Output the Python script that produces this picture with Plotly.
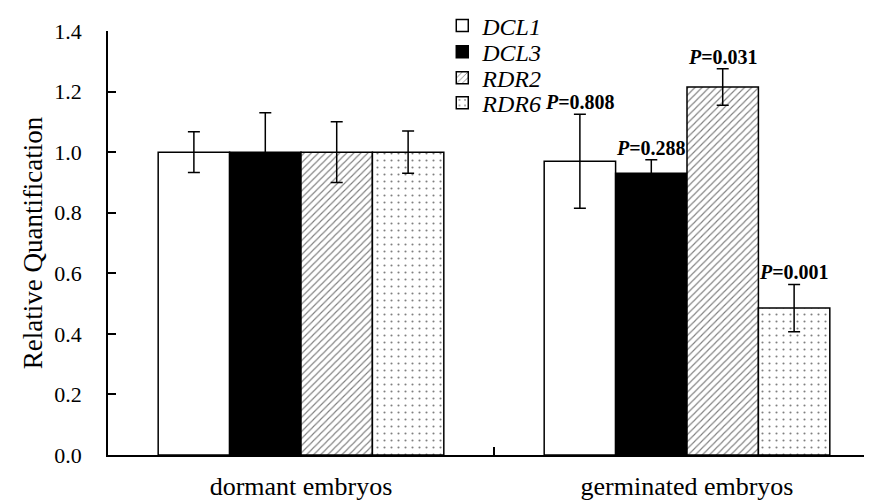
import plotly.graph_objects as go

categories = ["dormant embryos", "germinated embryos"]
series_names = ["DCL1", "DCL3", "RDR2", "RDR6"]
values = {
    "DCL1": [1.0, 0.97],
    "DCL3": [1.0, 0.93],
    "RDR2": [1.0, 1.215],
    "RDR6": [1.0, 0.485],
}
errors = {
    "DCL1": [0.067, 0.155],
    "DCL3": [0.13, 0.045],
    "RDR2": [0.10, 0.06],
    "RDR6": [0.07, 0.078],
}
p_labels = {
    "DCL1": "0.808",
    "DCL3": "0.288",
    "RDR2": "0.031",
    "RDR6": "0.001",
}
y_ticks = [0.0, 0.2, 0.4, 0.6, 0.8, 1.0, 1.2, 1.4]

FONT = "Liberation Serif"
styles = {
    "DCL1": dict(color="white", pattern=dict(shape="")),
    "DCL3": dict(color="black", pattern=dict(shape="")),
    "RDR2": dict(color="white", pattern=dict(shape="/", fgcolor="black", bgcolor="white", size=5, solidity=0.22, fillmode="overlay")),
    "RDR6": dict(color="white", pattern=dict(shape=".", fgcolor="black", bgcolor="white", size=7, solidity=0.07, fillmode="overlay")),
}
legend_ids = ["legend", "legend2", "legend3", "legend4"]
legend_rows = [1.012, 0.95, 0.889, 0.83]

fig = go.Figure()
for name, lid in zip(series_names, legend_ids):
    st = styles[name]
    fig.add_trace(go.Bar(
        x=categories, y=values[name], name=name, legend=lid,
        marker=dict(color=st["color"], line=dict(color="black", width=1.5), pattern=st["pattern"]),
        error_y=dict(type="data", array=errors[name], visible=True, color="black", thickness=1.5, width=6),
    ))

bargap = 0.26
nb = len(series_names)
bw = (1 - bargap) / nb
for i, name in enumerate(series_names):
    off = -(1 - bargap) / 2 + bw * (i + 0.5)
    top = values[name][1] + errors[name][1]
    fig.add_annotation(
        x=1 + off, y=top, xref="x", yref="y",
        text="<b><i>P</i>=" + p_labels[name] + "</b>",
        showarrow=False, yanchor="bottom", yshift=-1,
        font=dict(family=FONT, size=20, color="black"),
    )

legend_common = dict(x=0.433, xanchor="left", yanchor="middle",
                     font=dict(family=FONT, size=24, style="italic"),
                     bgcolor="rgba(0,0,0,0)")
layout_legends = {lid: dict(y=yv, **legend_common) for lid, yv in zip(legend_ids, legend_rows)}

fig.update_layout(
    width=872, height=502,
    margin=dict(l=100, r=0, t=23, b=55, autoexpand=False),
    paper_bgcolor="white", plot_bgcolor="white",
    barmode="group", bargap=bargap, bargroupgap=0,
    font=dict(family=FONT, color="black"),
    showlegend=True,
    **layout_legends,
)
fig.update_xaxes(
    showline=True, linecolor="black", linewidth=1.5,
    ticks="inside", tickson="boundaries", ticklen=8, tickcolor="black", tickwidth=1.5,
    tickfont=dict(family=FONT, size=26), ticklabelstandoff=7,
    range=[-0.5, 1.5], showgrid=False,
)
fig.update_yaxes(
    range=[0, 1.4], tickvals=y_ticks, ticktext=[f"{v:.1f}" for v in y_ticks],
    showline=True, linecolor="black", linewidth=1.5,
    ticks="inside", ticklen=8, tickcolor="black", tickwidth=1.5,
    tickfont=dict(family=FONT, size=22), ticklabelstandoff=20,
    showgrid=False, zeroline=False,
    title=dict(text="Relative Quantification", font=dict(family=FONT, size=27), standoff=4),
)
fig.write_html("out.html")
